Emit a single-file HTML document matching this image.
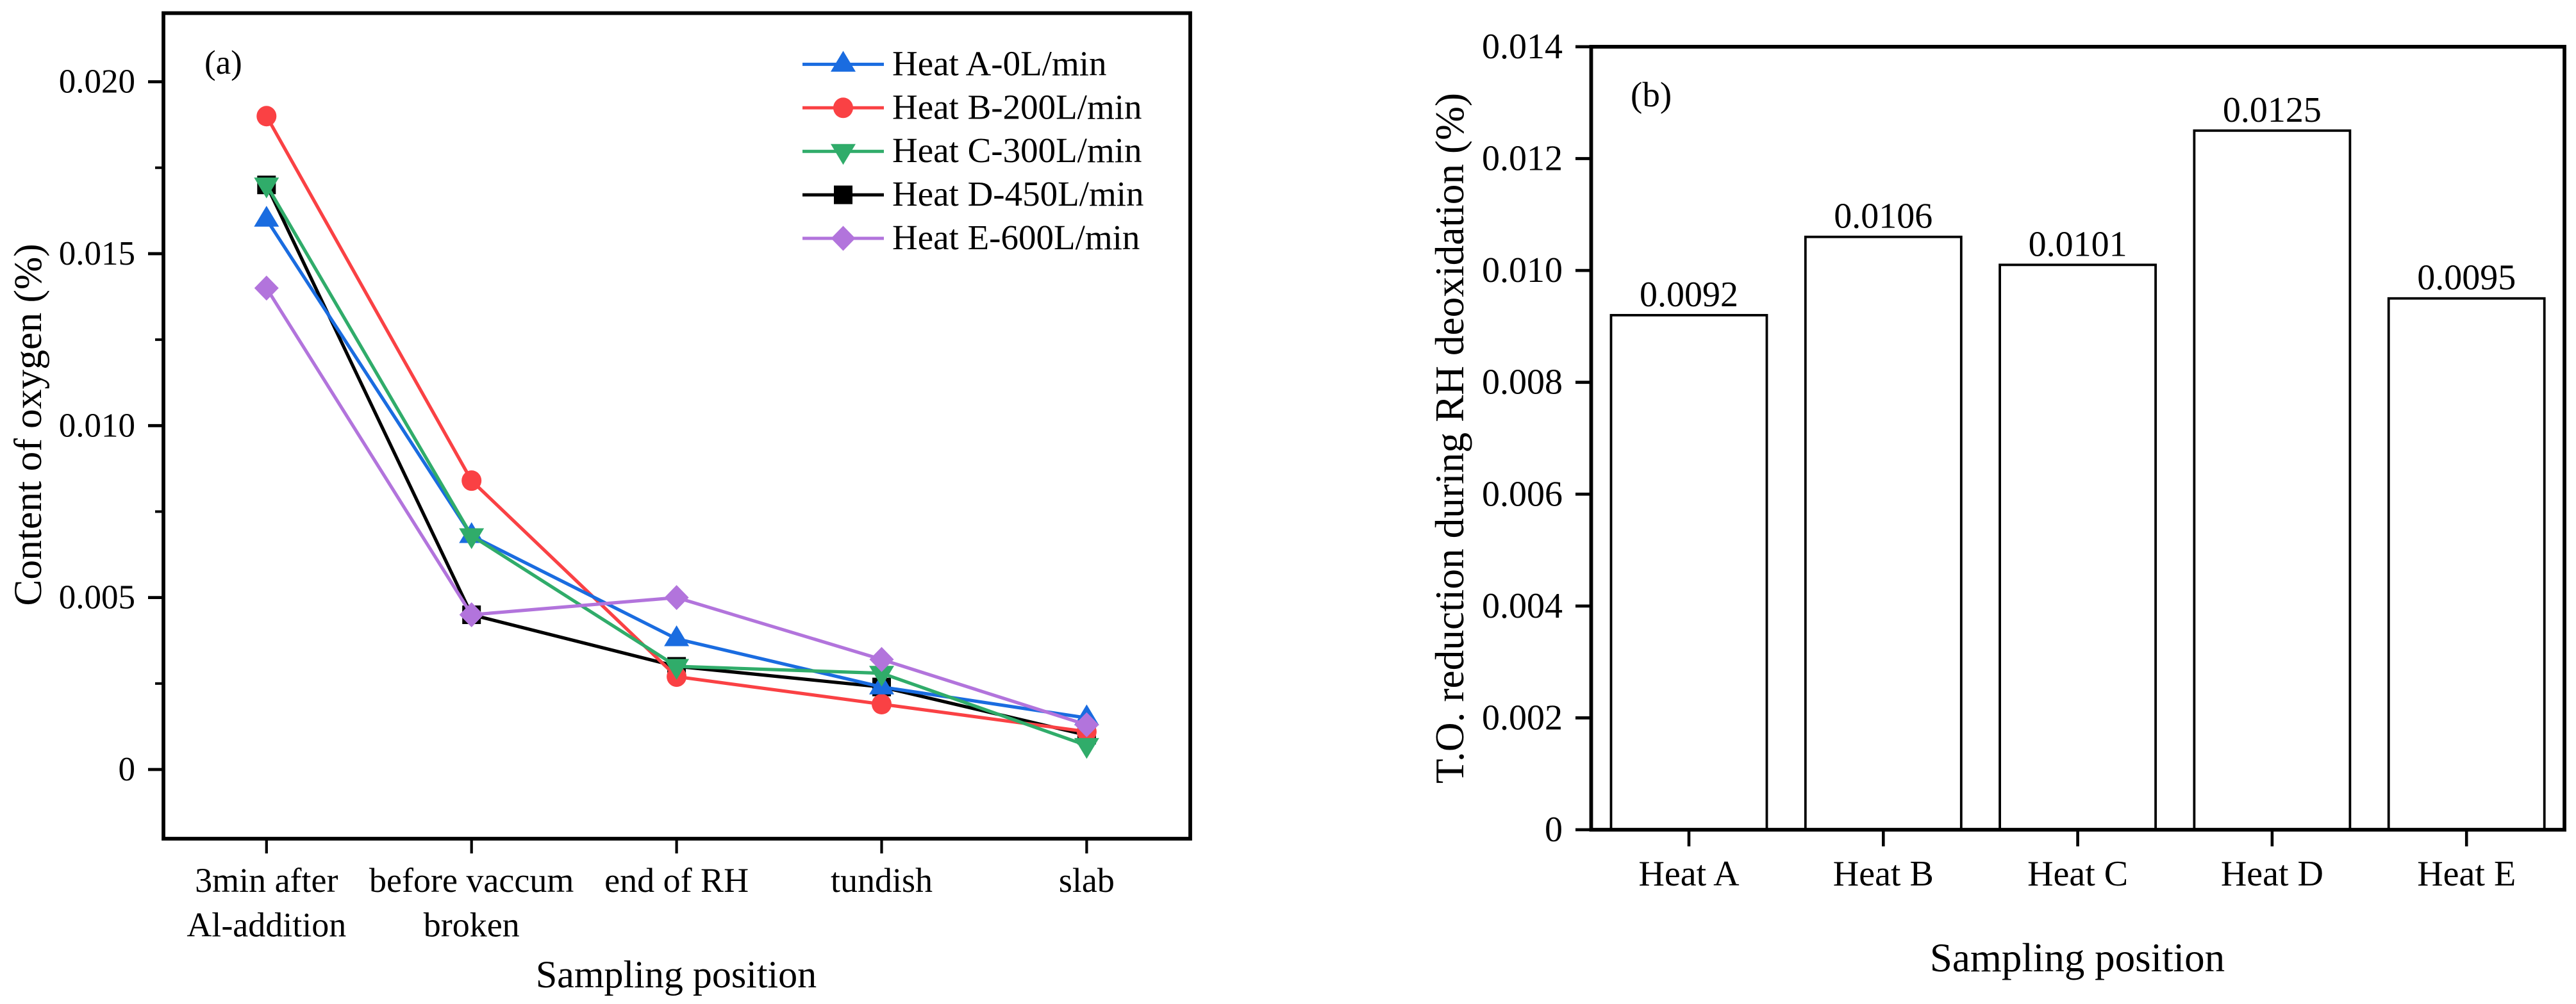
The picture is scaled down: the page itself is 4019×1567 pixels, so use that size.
<!DOCTYPE html>
<html lang="en">
<head>
<meta charset="utf-8">
<title>Oxygen content and T.O. reduction charts</title>
<style>
html,body{margin:0;padding:0;background:#fff;}
body{width:4019px;height:1567px;overflow:hidden;}
svg{display:block;}
text{font-family:"Liberation Serif","Times New Roman",serif;fill:#000;}
</style>
</head>
<body>
<svg id="figure" xmlns="http://www.w3.org/2000/svg" width="4019" height="1567" viewBox="0 0 4019 1567">
  <rect x="0" y="0" width="4019" height="1567" fill="#fff"/>
  <g id="chartA"></g>
  <g id="chartB"></g>
</svg>
<script>
// ---- Chart (a) data ----
const lineCategories = [["3min after","Al-addition"],["before vaccum","broken"],["end of RH"],["tundish"],["slab"]];
const lineYTicks = [0, 0.005, 0.010, 0.015, 0.020];
const lineYTickLabels = ["0", "0.005", "0.010", "0.015", "0.020"];
const lineYMinorTicks = [0.0025, 0.0075, 0.0125, 0.0175];
const seriesNames = ["Heat A-0L/min", "Heat B-200L/min", "Heat C-300L/min", "Heat D-450L/min", "Heat E-600L/min"];
const heatA = [0.0160, 0.0068, 0.0038, 0.0024, 0.0015];
const heatB = [0.0190, 0.0084, 0.0027, 0.0019, 0.0011];
const heatC = [0.0170, 0.0068, 0.0030, 0.0028, 0.0007];
const heatD = [0.0170, 0.0045, 0.0030, 0.0024, 0.0010];
const heatE = [0.0140, 0.0045, 0.0050, 0.0032, 0.0013];

// ---- Chart (b) data ----
const barCategories = ["Heat A", "Heat B", "Heat C", "Heat D", "Heat E"];
const barValues = [0.0092, 0.0106, 0.0101, 0.0125, 0.0095];
const barValueLabels = ["0.0092", "0.0106", "0.0101", "0.0125", "0.0095"];
const barYTicks = [0, 0.002, 0.004, 0.006, 0.008, 0.010, 0.012, 0.014];
const barYTickLabels = ["0", "0.002", "0.004", "0.006", "0.008", "0.010", "0.012", "0.014"];

const NS = "http://www.w3.org/2000/svg";
function mk(parent, tag, attrs, txt) {
  const n = document.createElementNS(NS, tag);
  for (const k in attrs) n.setAttribute(k, attrs[k]);
  if (txt !== undefined) n.textContent = txt;
  parent.appendChild(n);
  return n;
}
function slug(s) { return String(s).toLowerCase().replace(/[^a-z0-9]+/g, "-").replace(/^-|-$/g, ""); }

// ---- Axis functions ----
const xA = i => 415.8 + i * 319.9;
const yA = v => 1201 - v * 53670;
const xB = i => 2635 + i * 303.3;
const yB = v => 1295 - v * 87290;

// ---- Series styling ----
const seriesColors = ["#1a6ce0", "#fa4144", "#30ac6a", "#000000", "#b274dc"];
const seriesMarkers = ["up", "circle", "down", "square", "diamond"];
const seriesData = [heatA, heatB, heatC, heatD, heatE];
const drawOrder = [3, 1, 0, 2, 4];

function marker(parent, kind, cx, cy, color) {
  if (kind === "up") return mk(parent, "polygon", {points: `${cx},${cy-21} ${cx+19.5},${cy+11.5} ${cx-19.5},${cy+11.5}`, fill: color});
  if (kind === "down") return mk(parent, "polygon", {points: `${cx-19.5},${cy-11.5} ${cx+19.5},${cy-11.5} ${cx},${cy+21}`, fill: color});
  if (kind === "circle") return mk(parent, "ellipse", {cx: cx, cy: cy, rx: 15.5, ry: 16, fill: color});
  if (kind === "square") return mk(parent, "rect", {x: cx-14.5, y: cy-14.5, width: 29, height: 29, fill: color});
  return mk(parent, "polygon", {points: `${cx},${cy-19.5} ${cx+19},${cy} ${cx},${cy+19.5} ${cx-19},${cy}`, fill: color});
}

// ---- Draw chart (a) ----
const gA = document.getElementById("chartA");

drawOrder.forEach(si => {
  const g = mk(gA, "g", {});
  
  
  const pts = seriesData[si].map((v, i) => xA(i) + "," + yA(v)).join(" ");
  const pl = mk(g, "polyline", {points: pts, fill: "none", stroke: seriesColors[si], "stroke-width": 5.2, "stroke-linejoin": "round"});
  
  
  seriesData[si].forEach((v, i) => {
    const m = marker(g, seriesMarkers[si], xA(i), yA(v), seriesColors[si]);
    
    
  });
});

const frameA = mk(gA, "rect", {x: 255, y: 20.5, width: 1602, height: 1288.5, fill: "none", stroke: "#000", "stroke-width": 5.8});



lineYTicks.forEach((v, i) => {
  const t = mk(gA, "line", {x1: 231, x2: 255, y1: yA(v), y2: yA(v), stroke: "#000", "stroke-width": 4.8});
  
  
  const l = mk(gA, "text", {x: 211, y: yA(v) + 17, "text-anchor": "end", "font-size": 53}, lineYTickLabels[i]);
  
  
});
lineYMinorTicks.forEach((v, i) => {
  const t = mk(gA, "line", {x1: 242, x2: 255, y1: yA(v), y2: yA(v), stroke: "#000", "stroke-width": 4});
  
  
});
lineCategories.forEach((lines, i) => {
  const t = mk(gA, "line", {x1: xA(i), x2: xA(i), y1: 1309, y2: 1332, stroke: "#000", "stroke-width": 4.2});
  
  
  lines.forEach((s, j) => {
    const l = mk(gA, "text", {x: xA(i), y: 1392 + j * 69.5, "text-anchor": "middle", "font-size": 54}, s);
    
    
  });
});

const titleYA = mk(gA, "text", {transform: "translate(64,663) rotate(-90)", "text-anchor": "middle", "font-size": 61.5}, "Content of oxygen (%)");


const titleXA = mk(gA, "text", {x: 1055, y: 1541, "text-anchor": "middle", "font-size": 60}, "Sampling position");


const panelA = mk(gA, "text", {x: 319, y: 115, "font-size": 53}, "(a)");



seriesNames.forEach((name, i) => {
  const yy = 100.4 + i * 67.9;
  const g = mk(gA, "g", {});
  
  
  const ln = mk(g, "line", {x1: 1252, x2: 1379, y1: yy, y2: yy, stroke: seriesColors[i], "stroke-width": 5});
  
  
  const m = marker(g, seriesMarkers[i], 1315.5, yy, seriesColors[i]);
  
  
  const tx = mk(g, "text", {x: 1392, y: yy + 17, "font-size": 55}, name);
  
  
});

// ---- Draw chart (b) ----
const gB = document.getElementById("chartB");
const barWidth = 243;

barValues.forEach((v, i) => {
  const r = mk(gB, "rect", {x: xB(i) - barWidth / 2, y: yB(v), width: barWidth, height: yB(0) - yB(v), fill: "#fff", stroke: "#000", "stroke-width": 3.8});
  
  
  const l = mk(gB, "text", {x: xB(i), y: yB(v) - 14, "text-anchor": "middle", "font-size": 56}, barValueLabels[i]);
  
  
});

const frameB = mk(gB, "rect", {x: 2482.5, y: yB(0.014), width: 1518.5, height: yB(0) - yB(0.014), fill: "none", stroke: "#000", "stroke-width": 5.8});



barYTicks.forEach((v, i) => {
  const t = mk(gB, "line", {x1: 2458, x2: 2482.5, y1: yB(v), y2: yB(v), stroke: "#000", "stroke-width": 4.8});
  
  
  const l = mk(gB, "text", {x: 2438, y: yB(v) + 18, "text-anchor": "end", "font-size": 56}, barYTickLabels[i]);
  
  
});
barCategories.forEach((c, i) => {
  const t = mk(gB, "line", {x1: xB(i), x2: xB(i), y1: 1295, y2: 1321, stroke: "#000", "stroke-width": 4.6});
  
  
  const l = mk(gB, "text", {x: xB(i), y: 1382, "text-anchor": "middle", "font-size": 56}, c);
  
  
});

const titleYB = mk(gB, "text", {transform: "translate(2283,684) rotate(-90)", "text-anchor": "middle", "font-size": 63.4}, "T.O. reduction during RH deoxidation (%)");


const titleXB = mk(gB, "text", {x: 3241, y: 1516, "text-anchor": "middle", "font-size": 63}, "Sampling position");


const panelB = mk(gB, "text", {x: 2544, y: 166, "font-size": 55}, "(b)");


</script>
</body>
</html>
